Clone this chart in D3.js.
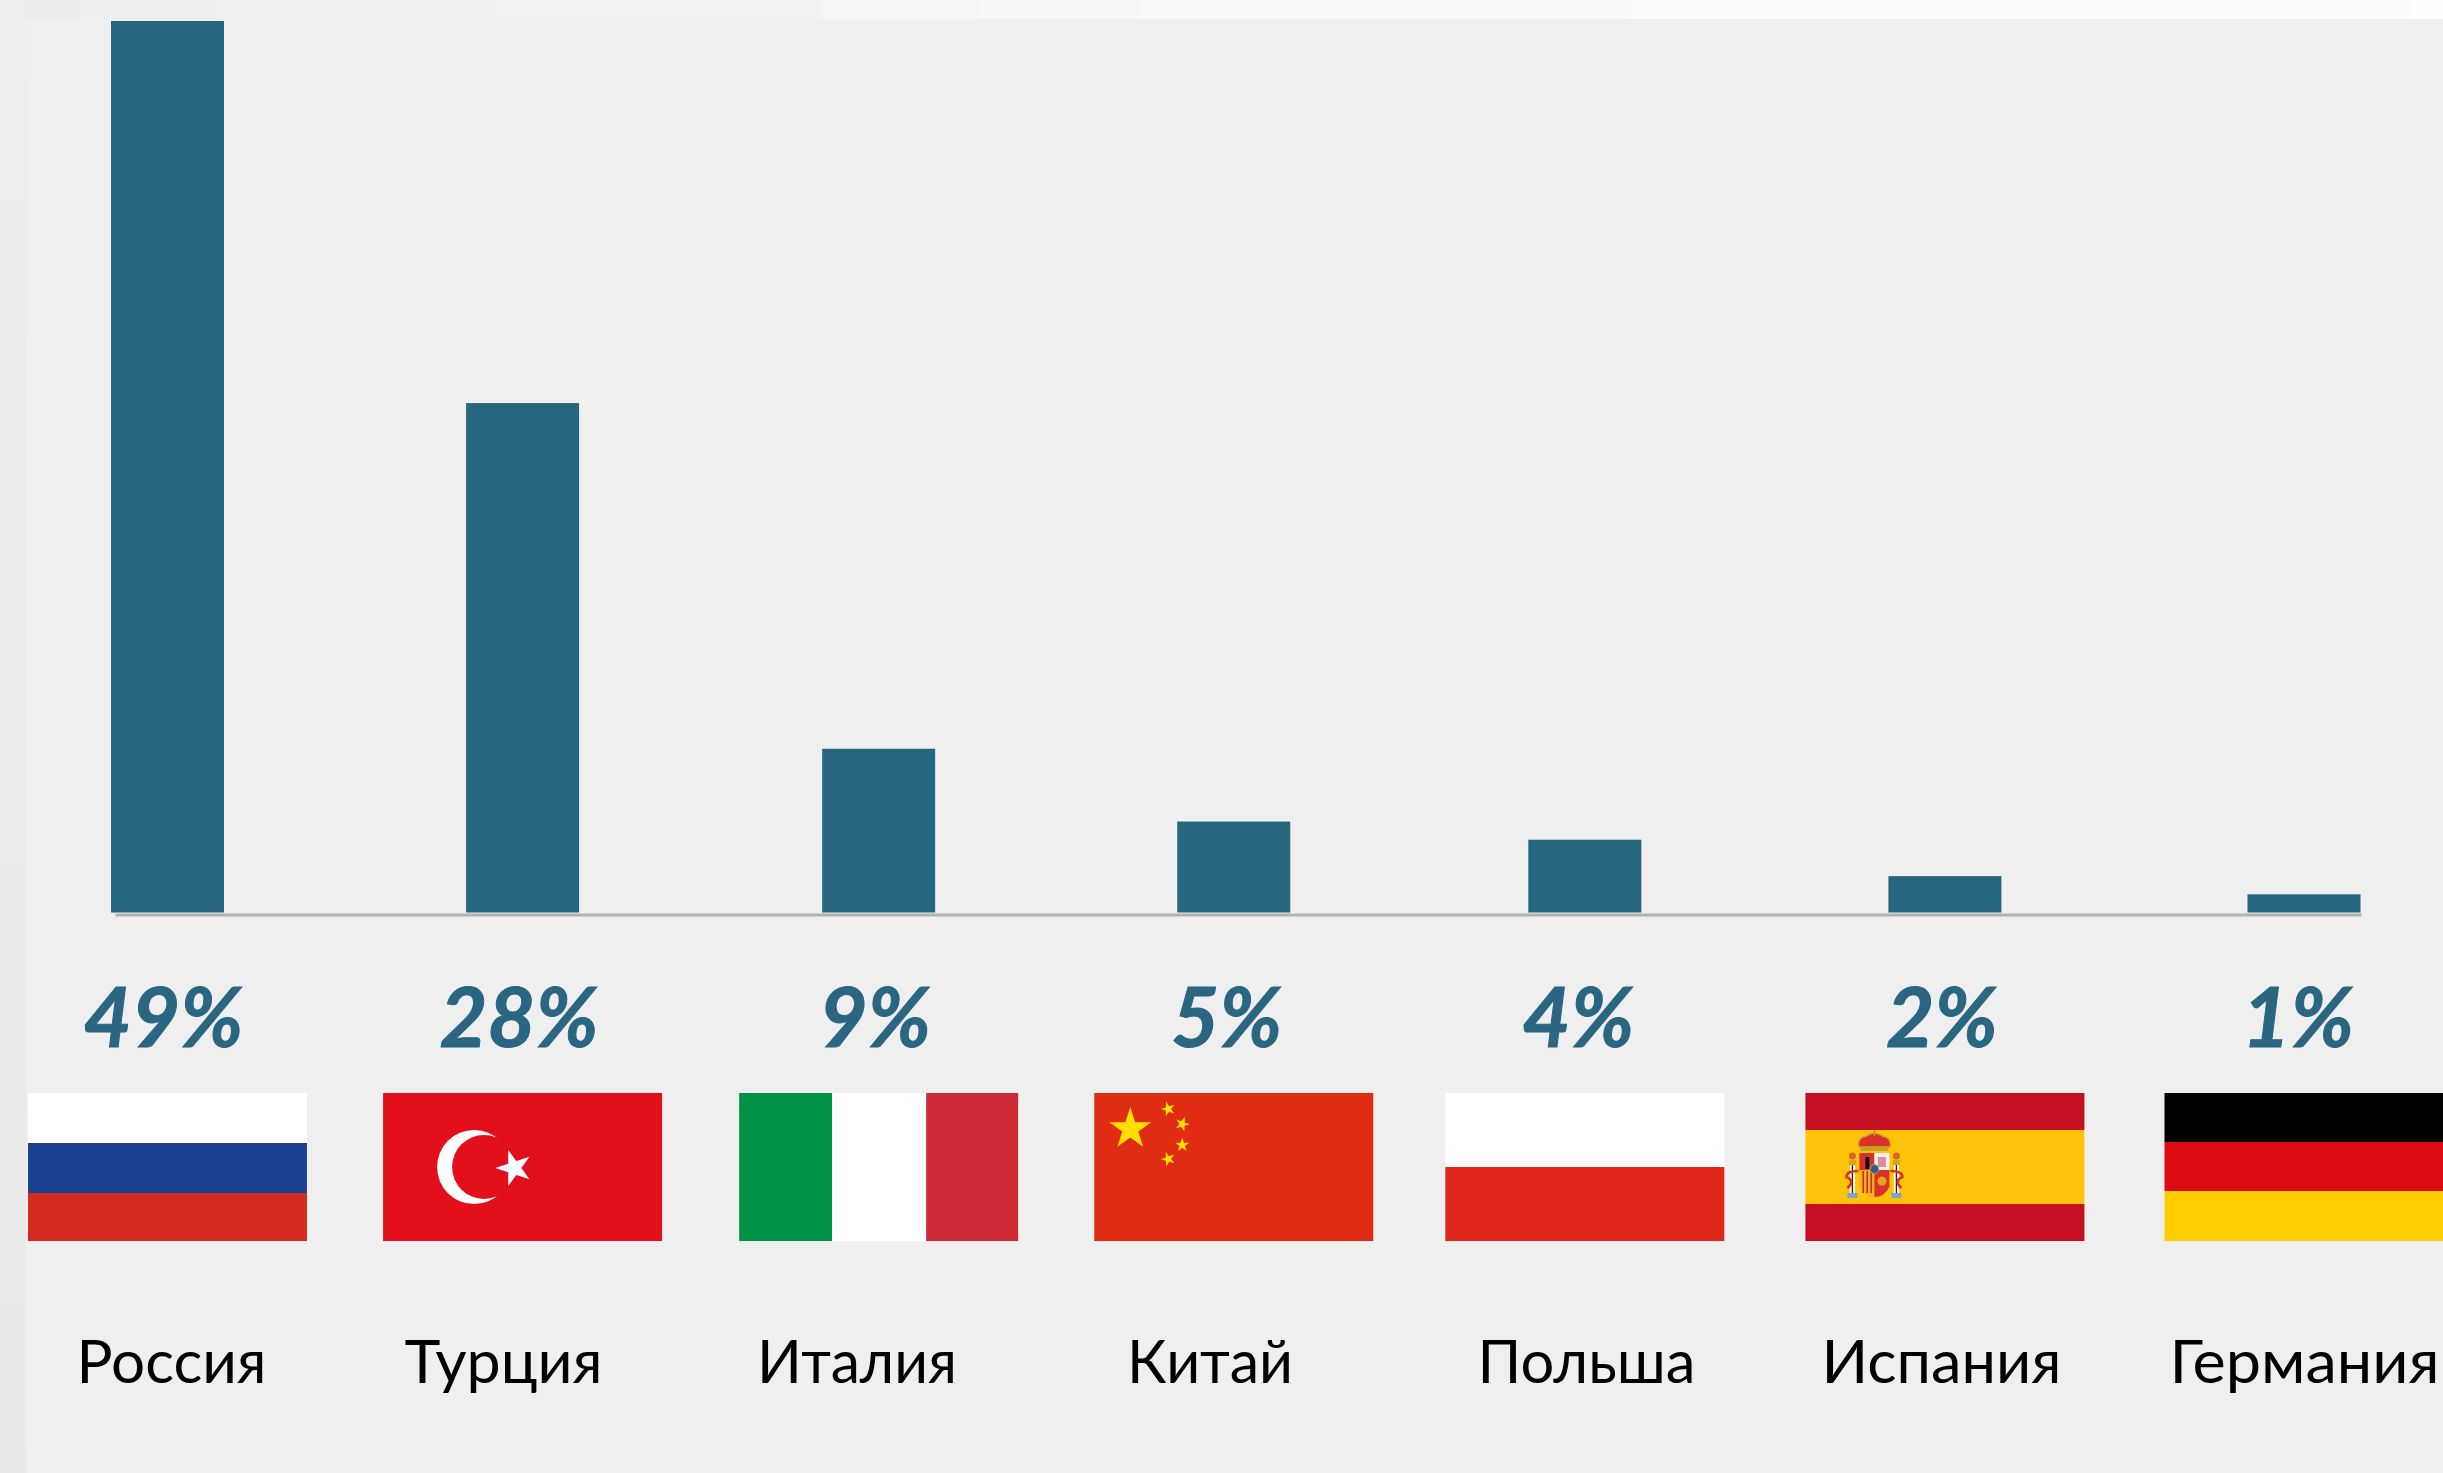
<!DOCTYPE html>
<html lang="ru">
<head>
<meta charset="utf-8">
<script src="https://cdn.jsdelivr.net/npm/d3@7"></script>
<style>html,body{margin:0;padding:0;background:#efefef;overflow:hidden}svg{display:block}</style>
</head>
<body>
<svg id="chart" width="2443" height="1473"></svg>
<script>
// --- data ---
const categories = ["Россия","Турция","Италия","Китай","Польша","Испания","Германия"];
const shares = [49,28,9,5,4,2,1];
const flagKeys = ["ru","tr","it","cn","pl","es","de"];

// --- layout (kept apart from the data) ---
const W = 2443, H = 1473;
const barW = 113, flagW = 279;
const nudge = [0,-1,-1,-2,-7,-3,0];
const pctDx = [-4,-3.5,-3.5,-7,-6.5,-3,-6];
const pctLen = [160,159,112,111,112,112,112];
const nameCx = [171.5,503.5,857,1210,1586.5,1941.5,2304.5];
const nameLen = [190,198,200,166,218,240,270];

const svg = d3.select("#chart");
const BAR = "#27667f", PCT = "#2a6682";

// background
svg.append("rect").attr("width",W).attr("height",H).attr("fill","#efefef");
const bandStops = [[0,79,"#ebebeb"],[79,218,"#eeeeee"],[218,503,"#f0f0f0"],[503,820,"#f1f1f1"],[820,980,"#f5f5f5"],[980,1140,"#f7f7f7"],[1140,1630,"#f9f9f9"],[1630,2410,"#fbfbfb"],[2410,2443,"#fefefe"]];
svg.selectAll("rect.top").data(bandStops).join("rect").attr("class","top")
  .attr("x",d=>d[0]).attr("y",0).attr("width",d=>d[1]-d[0]).attr("height",19).attr("fill",d=>d[2]);
const left = svg.append("defs").append("linearGradient").attr("id","lg").attr("x1",0).attr("x2",0).attr("y1",0).attr("y2",1);
left.append("stop").attr("offset",0).attr("stop-color","#ededed");
left.append("stop").attr("offset",1).attr("stop-color","#e8e8e8");
svg.append("rect").attr("x",0).attr("y",0).attr("width",26).attr("height",H).attr("fill","url(#lg)");

// scales
const x0 = d3.scalePoint().domain(categories).range([167.5,2304]);
const cx = c => x0(c) + nudge[categories.indexOf(c)];
const y = d3.scaleLinear().domain([0,49]).range([912.5,21]);

// baseline (drawn with d3's axis on a scale spanning it)
const base = d3.scaleLinear().domain([0,1]).range([115,2361]);
const axis = svg.append("g").attr("transform","translate(0,914.5)").call(d3.axisBottom(base).tickValues([]).tickSize(0).tickSizeOuter(0));
axis.select(".domain").attr("stroke","#b2b2b2").attr("stroke-width",3);

// bars
svg.selectAll("rect.bar").data(categories).join("rect").attr("class","bar")
  .attr("x",c=>cx(c)-barW/2).attr("width",barW)
  .attr("y",(c,i)=>y(shares[i])).attr("height",(c,i)=>y(0)-y(shares[i]))
  .attr("fill",BAR);

// percent labels
svg.selectAll("text.pct").data(categories).join("text").attr("class","pct")
  .attr("x",(c,i)=>cx(c)+pctDx[i]).attr("y",1047)
  .attr("text-anchor","middle")
  .attr("font-family","Lato,'Open Sans',sans-serif").attr("font-weight",700).attr("font-style","italic")
  .attr("font-size",82).attr("fill",PCT).attr("stroke",PCT).attr("stroke-width",1)
  .attr("textLength",(c,i)=>pctLen[i]).attr("lengthAdjust","spacingAndGlyphs")
  .text((c,i)=>shares[i]+"%");

// country names
svg.selectAll("text.name").data(categories).join("text").attr("class","name")
  .attr("x",(c,i)=>nameCx[i]).attr("y",1383)
  .attr("text-anchor","middle")
  .attr("font-family","Lato,'Open Sans',sans-serif").attr("font-size",60).attr("fill","#000")
  .attr("textLength",(c,i)=>nameLen[i]).attr("lengthAdjust","spacingAndGlyphs")
  .text(c=>c);

// flags
const FY = 1093, FH = 148;
function star(cxx,cyy,R,rot){
  const r=R*0.382, pts=[];
  for(let k=0;k<10;k++){const a=rot+k*Math.PI/5,q=k%2?r:R;pts.push([cxx+q*Math.sin(a),cyy-q*Math.cos(a)]);}
  return d3.line()(pts)+"Z";
}
function stripesH(g,rows){let t=0;rows.forEach(([f,c])=>{g.append("rect").attr("x",0).attr("y",t*FH).attr("width",flagW).attr("height",f*FH).attr("fill",c);t+=f;});}
function stripesV(g,cols){let t=0;cols.forEach(([f,c])=>{g.append("rect").attr("x",t*flagW).attr("y",0).attr("width",f*flagW).attr("height",FH).attr("fill",c);t+=f;});}
const drawFlag = {
  ru:g=>stripesH(g,[[50/148,"#ffffff"],[50/148,"#1b4191"],[48/148,"#d52b1e"]]),
  de:g=>stripesH(g,[[49/148,"#000000"],[49/148,"#dd0a12"],[50/148,"#ffce00"]]),
  pl:g=>stripesH(g,[[74/148,"#ffffff"],[74/148,"#e1261b"]]),
  it:g=>stripesV(g,[[93/279,"#009246"],[94/279,"#ffffff"],[92/279,"#ce2b37"]]),
  tr:g=>{
    stripesH(g,[[1,"#e30f1a"]]);
    g.append("circle").attr("cx",91).attr("cy",74).attr("r",37).attr("fill","#fff");
    g.append("circle").attr("cx",101).attr("cy",74).attr("r",32).attr("fill","#e30f1a");
    g.append("path").attr("d",star(131,75,19,-Math.PI/2)).attr("fill","#fff");
  },
  cn:g=>{
    stripesH(g,[[1,"#e02c12"]]);
    g.append("path").attr("d",star(36,36,22,0)).attr("fill","#ffde00");
    [[74,16,-0.3],[88,31,0.35],[88,52,0],[74,66,-0.35]].forEach(([a,b,r])=>
      g.append("path").attr("d",star(a,b,7.5,r)).attr("fill","#ffde00"));
  },
  es:g=>{
    stripesH(g,[[37/148,"#c60f20"],[74/148,"#ffc40a"],[37/148,"#c60f20"]]);
    // coat of arms, simplified: crown, quartered shield and the two pillars
    const c=g.append("g").attr("transform","translate(69,0)");
    c.append("path").attr("d","M-16,54 Q-17,44 -8,43 Q0,37 8,43 Q17,44 16,54 Z").attr("fill","#d8322a").attr("stroke","#d9a520").attr("stroke-width",1.5);
    c.append("rect").attr("x",-14).attr("y",54).attr("width",28).attr("height",4).attr("fill","#c8a020");
    c.append("rect").attr("x",-0.8).attr("y",37).attr("width",1.6).attr("height",6).attr("fill","#b8922a");
    [-1,1].forEach(s=>{
      c.append("rect").attr("x",s*22-2.5).attr("y",72).attr("width",5).attr("height",28).attr("fill","#fff");
      c.append("rect").attr("x",s*22-0.7).attr("y",72).attr("width",1.4).attr("height",28).attr("fill","#222");
      c.append("rect").attr("x",s*22-3.5).attr("y",67).attr("width",7).attr("height",5).attr("fill","#d9a520");
      c.append("circle").attr("cx",s*22).attr("cy",63).attr("r",3.5).attr("fill","#e0602a");
      c.append("rect").attr("x",s*22-5).attr("y",100).attr("width",10).attr("height",5).attr("fill","#7aa7c8");
      c.append("path").attr("d",`M${s*16},78 Q${s*28},78 ${s*28},84 Q${s*19},88 ${s*27},95`).attr("fill","none").attr("stroke","#d8322a").attr("stroke-width",2.5);
    });
    c.append("rect").attr("x",-15).attr("y",60).attr("width",15).attr("height",17).attr("fill","#d8322a");
    c.append("rect").attr("x",-9).attr("y",64).attr("width",4).attr("height",12).attr("fill","#111");
    c.append("rect").attr("x",0).attr("y",60).attr("width",15).attr("height",17).attr("fill","#f6f0f0");
    c.append("rect").attr("x",3.5).attr("y",64).attr("width",8).attr("height",10).attr("fill","#d98aa0");
    c.append("path").attr("d","M-15,77 H0 V104 Q-10,104 -15,94 Z").attr("fill","#f0b020");
    [-12,-8,-4].forEach(v=>c.append("rect").attr("x",v).attr("y",78).attr("width",1.6).attr("height",22).attr("fill","#c9302a"));
    c.append("path").attr("d","M0,77 H15 V94 Q10,104 0,104 Z").attr("fill","#d8322a");
    c.append("circle").attr("cx",7.5).attr("cy",88).attr("r",4.5).attr("fill","#e8a020");
    c.append("circle").attr("cx",0).attr("cy",76).attr("r",4.5).attr("fill","#2a5f9e").attr("stroke","#d9a520").attr("stroke-width",1);
  }
};
svg.selectAll("g.flag").data(categories).join("g").attr("class","flag")
  .attr("transform",c=>`translate(${cx(c)-flagW/2},${FY})`)
  .each(function(c,i){drawFlag[flagKeys[i]](d3.select(this));});
</script>
</body>
</html>
